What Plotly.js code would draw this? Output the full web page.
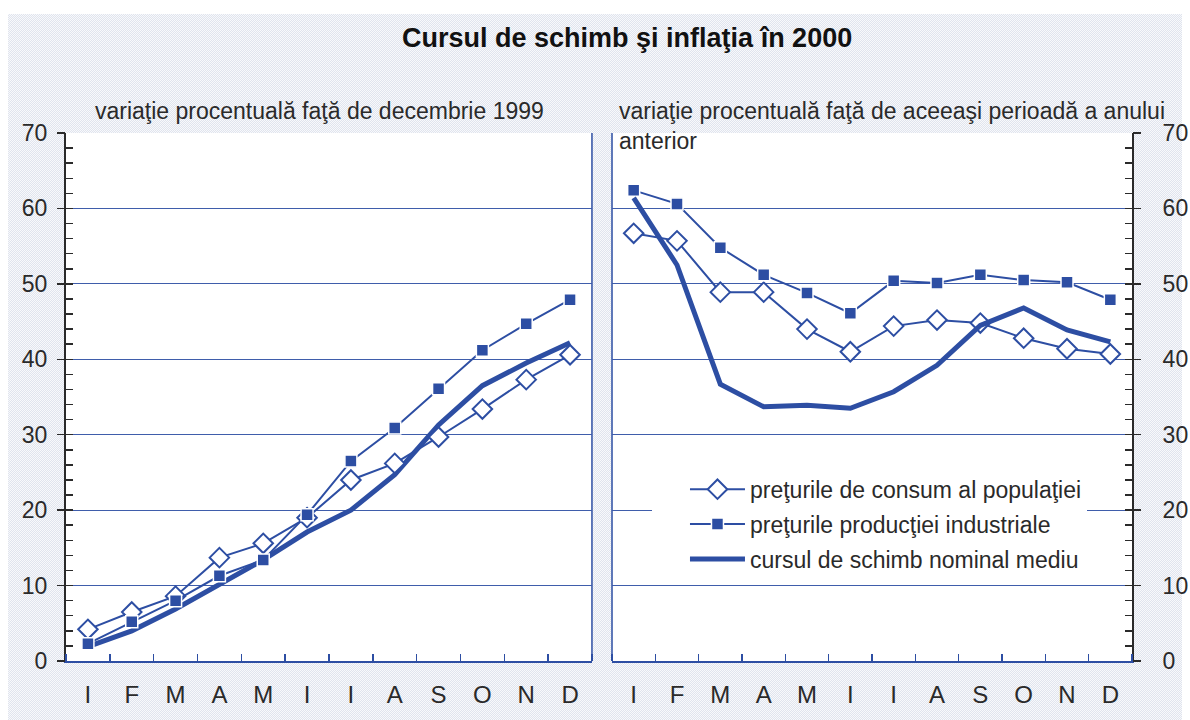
<!DOCTYPE html>
<html><head><meta charset="utf-8">
<script src="https://cdn.plot.ly/plotly-3.0.1.min.js"></script>
<style>
html,body{margin:0;padding:0;background:#fff;}
#bg{position:absolute;left:8px;top:14px;width:1174px;height:706px;
background:repeating-conic-gradient(#e0e4ee 0 25%, #f8f9fb 0 50%) 0 0/2px 2px;}
#chart{position:absolute;left:0;top:0;width:1190px;height:720px;}
</style></head>
<body><div id="bg"></div><div id="chart"></div>
<script>
const months = ["I","F","M","A","M","I","I","A","S","O","N","D"];
const idx = [0,1,2,3,4,5,6,7,8,9,10,11];
// Left panel: % change vs December 1999
const consumLeft   = [4.2, 6.5, 8.6, 13.7, 15.6, 19.0, 24.0, 26.2, 29.7, 33.4, 37.3, 40.6];
const industLeft   = [2.3, 5.2, 8.0, 11.3, 13.4, 19.4, 26.5, 30.9, 36.1, 41.2, 44.7, 47.9];
const cursLeft     = [1.9, 4.0, 6.9, 10.1, 13.4, 17.1, 20.0, 24.7, 31.3, 36.5, 39.5, 42.2];
// Right panel: % change vs same period previous year
const consumRight  = [56.7, 55.7, 48.9, 48.9, 44.0, 41.0, 44.4, 45.2, 44.8, 42.8, 41.4, 40.7];
const industRight  = [62.4, 60.6, 54.8, 51.2, 48.8, 46.1, 50.4, 50.1, 51.2, 50.5, 50.2, 47.9];
const cursRight    = [61.4, 52.5, 36.7, 33.7, 33.9, 33.5, 35.7, 39.2, 44.5, 46.8, 43.9, 42.3];
const names = ["preţurile de consum al populaţiei","preţurile producţiei industriale","cursul de schimb nominal mediu"];

const BLUE = "#2d4ea3";
const GRID = "#3f5dab";
const DARK = "#2a2a2a";
const FONT = "Liberation Sans, Arial, sans-serif";

function series(x, y, xa, ya, kind, show){
  const t = {x:x, y:y, xaxis:xa, yaxis:ya, type:"scatter", name:names[kind],
    showlegend:show, legendgroup:"g"+kind, hoverinfo:"skip", cliponaxis:false};
  if(kind===0){ t.mode="lines+markers"; t.line={color:BLUE,width:2};
    t.marker={symbol:"diamond",size:15,color:"#fff",line:{color:BLUE,width:2}}; }
  else if(kind===1){ t.mode="lines+markers"; t.line={color:BLUE,width:2};
    t.marker={symbol:"square",size:12,color:BLUE,line:{color:"#fff",width:1.5}}; }
  else { t.mode="lines"; t.line={color:BLUE,width:5}; }
  return t;
}
const traces = [
  series(idx, cursLeft, "x","y",2,false),
  series(idx, consumLeft, "x","y",0,false),
  series(idx, industLeft, "x","y",1,false),
  series(idx, consumRight, "x2","y2",0,true),
  series(idx, industRight, "x2","y2",1,true),
  series(idx, cursRight, "x2","y2",2,true),
  {x:[null],y:[null],xaxis:"x",yaxis:"y3",showlegend:false,hoverinfo:"skip",type:"scatter"},
  {x:[null],y:[null],xaxis:"x2",yaxis:"y4",showlegend:false,hoverinfo:"skip",type:"scatter"}
];
const bounds = [-0.5,0.5,1.5,2.5,3.5,4.5,5.5,6.5,7.5,8.5,9.5,10.5,11.5];
function xax(domain, anchor){
  return {domain:domain, anchor:anchor, range:[-0.5,11.5], tickmode:"array", tickvals:idx, ticktext:months,
    ticks:"", showgrid:false, zeroline:false, showline:true, linecolor:BLUE, linewidth:1.5,
    tickfont:{size:24,color:DARK,family:FONT}, ticklabelstandoff:12,
    minor:{tickmode:"array", tickvals:bounds, ticks:"inside", ticklen:7, tickcolor:BLUE, tickwidth:1.5, showgrid:false}};
}
function yax(anchor, side, standoff){
  return {anchor:anchor, side:side, range:[0,70], tickmode:"linear", tick0:0, dtick:10,
    ticks:"outside", ticklen:8, tickwidth:1.5, tickcolor:DARK, showgrid:true, gridcolor:GRID, gridwidth:1,
    zeroline:false, showline:false, tickfont:{size:23,color:DARK,family:FONT}, ticklabelstandoff:standoff};
}
function yin(anchor, side, over){
  return {anchor:anchor, side:side, overlaying:over, range:[0,70], tickmode:"linear", tick0:0, dtick:2,
    ticks:"inside", ticklen:7, tickwidth:1.5, tickcolor:DARK, showticklabels:false, showgrid:false,
    zeroline:false, showline:true, linecolor:DARK, linewidth:2};
}
const layout = {
  width:1190, height:720,
  margin:{l:66, r:58, t:133, b:59},
  paper_bgcolor:"rgba(0,0,0,0)", plot_bgcolor:"#fff",
  font:{family:FONT, color:DARK},
  title:{text:"<b>Cursul de schimb şi inflaţia în 2000</b>", font:{size:27,color:"#111",family:FONT},
    xref:"container", x:0.527, xanchor:"center", yref:"container", y:0.948, yanchor:"middle"},
  xaxis: xax([0,0.4934],"y"),
  xaxis2: xax([0.5122,1],"y2"),
  yaxis: yax("x","left",5),
  yaxis2: yax("x2","right",17),
  yaxis3: yin("x","left","y"),
  yaxis4: yin("x2","right","y2"),
  showlegend:true,
  legend:{x:0.5497, xanchor:"left", y:0.366, yanchor:"top", bgcolor:"#fff", borderwidth:0,
    font:{size:23,color:DARK,family:FONT}, itemwidth:55, indentation:33, traceorder:"grouped", tracegroupgap:2,
    itemclick:false, itemdoubleclick:false},
  shapes:[
    {type:"line", xref:"x domain", yref:"y domain", x0:1, x1:1, y0:0, y1:1, line:{color:BLUE,width:1.5}, layer:"below"},
    {type:"line", xref:"x2 domain", yref:"y2 domain", x0:0, x1:0, y0:0, y1:1, line:{color:BLUE,width:1.5}, layer:"below"}
  ],
  annotations:[
    {text:"variaţie procentuală faţă de decembrie 1999", xref:"paper", yref:"paper", x:0.238, y:1.0417,
      xanchor:"center", yanchor:"middle", showarrow:false, font:{size:23,color:DARK,family:FONT}},
    {text:"variaţie procentuală faţă de aceeaşi perioadă a anului", xref:"paper", yref:"paper", x:0.5165, y:1.0417,
      xanchor:"left", yanchor:"middle", showarrow:false, font:{size:23,color:DARK,family:FONT}},
    {text:"anterior", xref:"paper", yref:"paper", x:0.5165, y:0.985,
      xanchor:"left", yanchor:"middle", showarrow:false, font:{size:23,color:DARK,family:FONT}}
  ]
};
Plotly.newPlot("chart", traces, layout, {staticPlot:true, displayModeBar:false});
</script></body></html>
